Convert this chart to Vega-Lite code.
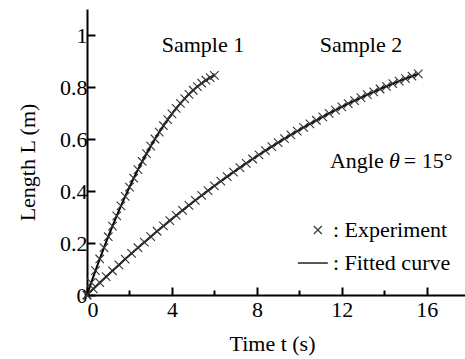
{
  "$schema": "https://vega.github.io/schema/vega-lite/v6.json",
  "width": 378,
  "height": 286,
  "autosize": {"type": "none"},
  "padding": {"left": 87, "top": 9, "right": 0, "bottom": 64},
  "background": "white",
  "config": {
    "font": "Liberation Serif",
    "view": {"stroke": null},
    "axis": {
      "domainColor": "black", "domainWidth": 2, "tickColor": "black", "tickWidth": 2,
      "labelFont": "Liberation Serif", "labelFontSize": 22, "labelColor": "black",
      "titleFont": "Liberation Serif", "titleFontSize": 22, "titleFontWeight": "normal", "titleColor": "black",
      "grid": false
    },
    "text": {"font": "Liberation Serif", "fontSize": 22, "color": "black"}
  },
  "datasets": {
    "curves": [
      {"sample": "1", "t": 0, "L": 0},
      {"sample": "1", "t": 0.2, "L": 0.0475},
      {"sample": "1", "t": 0.4, "L": 0.0937},
      {"sample": "1", "t": 0.6, "L": 0.1385},
      {"sample": "1", "t": 0.8, "L": 0.182},
      {"sample": "1", "t": 1.0, "L": 0.2241},
      {"sample": "1", "t": 1.2, "L": 0.265},
      {"sample": "1", "t": 1.4, "L": 0.3045},
      {"sample": "1", "t": 1.6, "L": 0.3426},
      {"sample": "1", "t": 1.8, "L": 0.3795},
      {"sample": "1", "t": 2.0, "L": 0.415},
      {"sample": "1", "t": 2.2, "L": 0.4491},
      {"sample": "1", "t": 2.4, "L": 0.482},
      {"sample": "1", "t": 2.6, "L": 0.5135},
      {"sample": "1", "t": 2.8, "L": 0.5436},
      {"sample": "1", "t": 3.0, "L": 0.5725},
      {"sample": "1", "t": 3.2, "L": 0.6},
      {"sample": "1", "t": 3.4, "L": 0.6261},
      {"sample": "1", "t": 3.6, "L": 0.651},
      {"sample": "1", "t": 3.8, "L": 0.6745},
      {"sample": "1", "t": 4.0, "L": 0.6966},
      {"sample": "1", "t": 4.2, "L": 0.7175},
      {"sample": "1", "t": 4.4, "L": 0.737},
      {"sample": "1", "t": 4.6, "L": 0.7552},
      {"sample": "1", "t": 4.8, "L": 0.772},
      {"sample": "1", "t": 5.0, "L": 0.7875},
      {"sample": "1", "t": 5.2, "L": 0.8017},
      {"sample": "1", "t": 5.4, "L": 0.8145},
      {"sample": "1", "t": 5.6, "L": 0.826},
      {"sample": "1", "t": 5.8, "L": 0.8362},
      {"sample": "1", "t": 6.0, "L": 0.845},
      {"sample": "2", "t": 0, "L": 0},
      {"sample": "2", "t": 0.3, "L": 0.0237},
      {"sample": "2", "t": 0.6, "L": 0.0472},
      {"sample": "2", "t": 0.9, "L": 0.0703},
      {"sample": "2", "t": 1.2, "L": 0.0932},
      {"sample": "2", "t": 1.5, "L": 0.1158},
      {"sample": "2", "t": 1.8, "L": 0.1381},
      {"sample": "2", "t": 2.1, "L": 0.1601},
      {"sample": "2", "t": 2.4, "L": 0.1818},
      {"sample": "2", "t": 2.7, "L": 0.2032},
      {"sample": "2", "t": 3.0, "L": 0.2243},
      {"sample": "2", "t": 3.3, "L": 0.2452},
      {"sample": "2", "t": 3.6, "L": 0.2657},
      {"sample": "2", "t": 3.9, "L": 0.286},
      {"sample": "2", "t": 4.2, "L": 0.306},
      {"sample": "2", "t": 4.5, "L": 0.3256},
      {"sample": "2", "t": 4.8, "L": 0.345},
      {"sample": "2", "t": 5.1, "L": 0.3641},
      {"sample": "2", "t": 5.4, "L": 0.383},
      {"sample": "2", "t": 5.7, "L": 0.4015},
      {"sample": "2", "t": 6.0, "L": 0.4197},
      {"sample": "2", "t": 6.3, "L": 0.4377},
      {"sample": "2", "t": 6.6, "L": 0.4553},
      {"sample": "2", "t": 6.9, "L": 0.4727},
      {"sample": "2", "t": 7.2, "L": 0.4898},
      {"sample": "2", "t": 7.5, "L": 0.5066},
      {"sample": "2", "t": 7.8, "L": 0.5231},
      {"sample": "2", "t": 8.1, "L": 0.5393},
      {"sample": "2", "t": 8.4, "L": 0.5552},
      {"sample": "2", "t": 8.7, "L": 0.5708},
      {"sample": "2", "t": 9.0, "L": 0.5862},
      {"sample": "2", "t": 9.3, "L": 0.6012},
      {"sample": "2", "t": 9.6, "L": 0.616},
      {"sample": "2", "t": 9.9, "L": 0.6304},
      {"sample": "2", "t": 10.2, "L": 0.6446},
      {"sample": "2", "t": 10.5, "L": 0.6585},
      {"sample": "2", "t": 10.8, "L": 0.6721},
      {"sample": "2", "t": 11.1, "L": 0.6854},
      {"sample": "2", "t": 11.4, "L": 0.6985},
      {"sample": "2", "t": 11.7, "L": 0.7112},
      {"sample": "2", "t": 12.0, "L": 0.7237},
      {"sample": "2", "t": 12.3, "L": 0.7358},
      {"sample": "2", "t": 12.6, "L": 0.7477},
      {"sample": "2", "t": 12.9, "L": 0.7593},
      {"sample": "2", "t": 13.2, "L": 0.7705},
      {"sample": "2", "t": 13.5, "L": 0.7815},
      {"sample": "2", "t": 13.8, "L": 0.7923},
      {"sample": "2", "t": 14.1, "L": 0.8027},
      {"sample": "2", "t": 14.4, "L": 0.8128},
      {"sample": "2", "t": 14.7, "L": 0.8226},
      {"sample": "2", "t": 15.0, "L": 0.8322},
      {"sample": "2", "t": 15.3, "L": 0.8415},
      {"sample": "2", "t": 15.6, "L": 0.8504}
    ],
    "centerNotes": [
      {"t": 5.46, "L": 0.935, "text": "Sample 1"},
      {"t": 12.9, "L": 0.935, "text": "Sample 2"}
    ],
    "leftNotes": [
      {"t": 11.44, "L": 0.488, "text": "Angle"},
      {"t": 14.92, "L": 0.488, "text": "= 15°"},
      {"t": 11.58, "L": 0.223, "text": ": Experiment"},
      {"t": 11.58, "L": 0.096, "text": ": Fitted curve"}
    ],
    "italicNotes": [
      {"t": 14.22, "L": 0.488, "text": "θ"}
    ],
    "legendMarker": [{"t": 10.87, "L": 0.25}],
    "legendLine": [{"t": 9.93, "t2": 11.34, "L": 0.123}]
  },
  "layer": [
    {
      "data": {"name": "curves"},
      "mark": {"type": "line", "color": "black", "strokeWidth": 2, "interpolate": "monotone"},
      "encoding": {
        "x": {
          "field": "t", "type": "quantitative",
          "scale": {"domain": [0, 17.8], "nice": false, "zero": false},
          "axis": {
            "values": [0, 2, 4, 6, 8, 10, 12, 14, 16],
            "format": "~g",
            "labelExpr": "datum.value % 4 == 0 ? datum.label : ''",
            "tickSize": {"condition": {"test": "datum.value % 4 == 0", "value": -8}, "value": -5},
            "labelPadding": 12,
            "title": "Time t (s)",
            "titleX": 185, "titleY": 55, "titleBaseline": "alphabetic"
          }
        },
        "y": {
          "field": "L", "type": "quantitative",
          "scale": {"domain": [0, 1.1], "nice": false},
          "axis": {
            "values": [0, 0.1, 0.2, 0.3, 0.4, 0.5, 0.6, 0.7, 0.8, 0.9, 1.0],
            "format": "~g",
            "labelExpr": "round(datum.value * 10) % 2 == 0 ? datum.label : ''",
            "tickSize": -8,
            "labelPadding": 8,
            "title": "Length L (m)",
            "titleAngle": -90, "titleX": -60, "titleY": 153, "titleBaseline": "middle", "titleAlign": "center"
          }
        },
        "detail": {"field": "sample"}
      }
    },
    {
      "data": {"name": "curves"},
      "mark": {"type": "point", "shape": "M-1,-1L1,1M-1,1L1,-1", "filled": false, "stroke": "#333", "strokeWidth": 1.1, "size": 72, "opacity": 1},
      "encoding": {
        "x": {"field": "t", "type": "quantitative"},
        "y": {"field": "L", "type": "quantitative"}
      }
    },
    {
      "mark": {"type": "rule", "color": "black", "strokeWidth": 2.5},
      "encoding": {"y": {"datum": 1.1}}
    },
    {
      "data": {"name": "centerNotes"},
      "mark": {"type": "text", "align": "center", "baseline": "alphabetic"},
      "encoding": {
        "x": {"field": "t", "type": "quantitative"},
        "y": {"field": "L", "type": "quantitative"},
        "text": {"field": "text"}
      }
    },
    {
      "data": {"name": "leftNotes"},
      "mark": {"type": "text", "align": "left", "baseline": "alphabetic"},
      "encoding": {
        "x": {"field": "t", "type": "quantitative"},
        "y": {"field": "L", "type": "quantitative"},
        "text": {"field": "text"}
      }
    },
    {
      "data": {"name": "italicNotes"},
      "mark": {"type": "text", "align": "left", "baseline": "alphabetic", "fontStyle": "italic"},
      "encoding": {
        "x": {"field": "t", "type": "quantitative"},
        "y": {"field": "L", "type": "quantitative"},
        "text": {"field": "text"}
      }
    },
    {
      "data": {"name": "legendMarker"},
      "mark": {"type": "point", "shape": "M-1,-1L1,1M-1,1L1,-1", "filled": false, "stroke": "#333", "strokeWidth": 1.1, "size": 64, "opacity": 1},
      "encoding": {
        "x": {"field": "t", "type": "quantitative"},
        "y": {"field": "L", "type": "quantitative"}
      }
    },
    {
      "data": {"name": "legendLine"},
      "mark": {"type": "rule", "color": "black", "strokeWidth": 1.3},
      "encoding": {
        "x": {"field": "t", "type": "quantitative"},
        "x2": {"field": "t2"},
        "y": {"field": "L", "type": "quantitative"}
      }
    }
  ]
}
